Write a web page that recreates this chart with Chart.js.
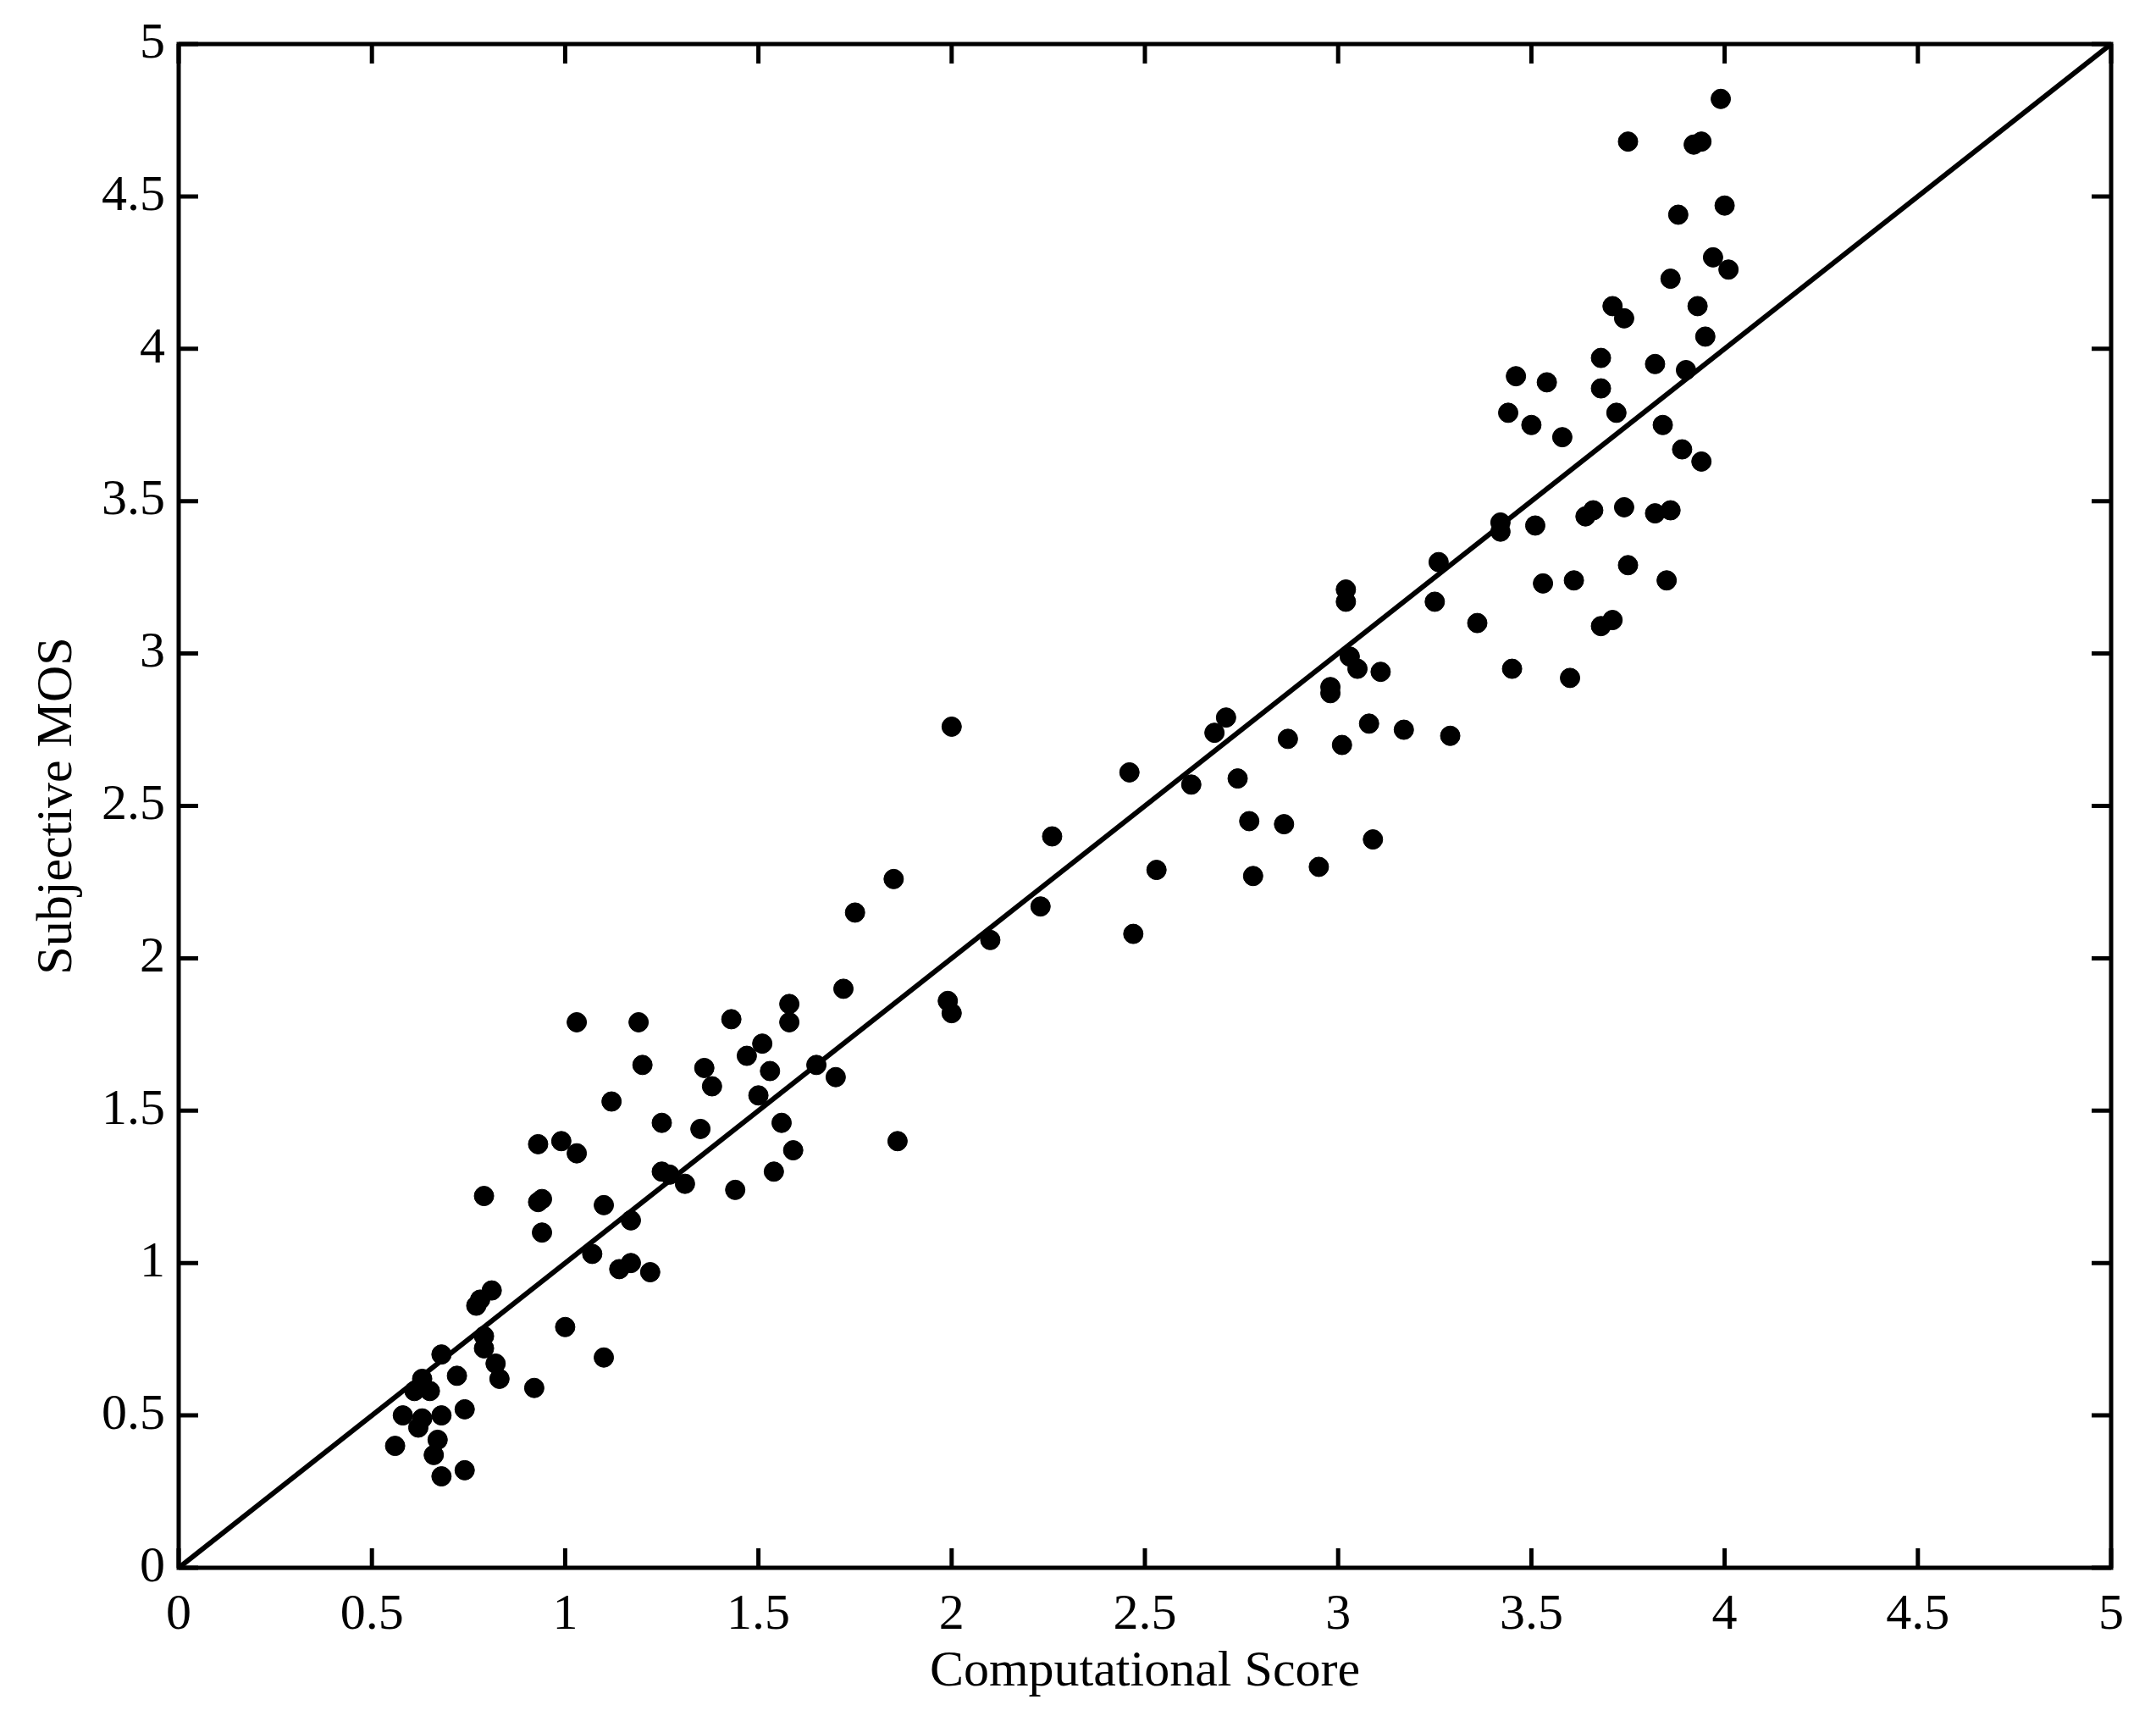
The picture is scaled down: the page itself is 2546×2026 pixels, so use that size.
<!DOCTYPE html>
<html>
<head>
<meta charset="utf-8">
<script src="https://cdn.jsdelivr.net/npm/chart.js@4.4.0/dist/chart.umd.min.js"></script>
<style>
  html, body { margin: 0; padding: 0; background: #fff; }
  canvas { display: block; }
</style>
</head>
<body>
<canvas id="mosChart" width="2546" height="2026"></canvas>
<script>
// scatter values
const computedScore = [
  0.56, 0.58, 0.61, 0.63, 0.62, 0.63, 0.65, 0.66, 0.67, 0.68, 0.68, 0.68,
  0.72, 0.74, 0.74, 0.77, 0.78, 0.79, 0.79, 0.79, 0.81, 0.82, 0.83,
  0.92, 0.93, 0.93, 0.94, 0.94, 0.99, 1.00, 1.03, 1.03, 1.07, 1.10, 1.10,
  1.12, 1.14, 1.17, 1.17, 1.19, 1.20, 1.22, 1.25, 1.25, 1.27, 1.31,
  1.35, 1.36, 1.38, 1.43, 1.44, 1.47, 1.50, 1.51, 1.53, 1.54, 1.56,
  1.58, 1.58, 1.59, 1.65, 1.70, 1.72, 1.75, 1.85, 1.86, 1.99, 2.00, 2.00,
  2.10, 2.23, 2.26, 2.46, 2.47, 2.53, 2.62, 2.68, 2.71, 2.74, 2.77, 2.78,
  2.86, 2.87, 2.95, 2.98, 2.98, 3.01, 3.02, 3.02, 3.03, 3.05, 3.08, 3.09,
  3.11, 3.17, 3.25, 3.26, 3.29, 3.36, 3.42, 3.42, 3.44, 3.45, 3.46, 3.50,
  3.51, 3.53, 3.54, 3.58, 3.60, 3.61, 3.64, 3.66, 3.68, 3.68, 3.68, 3.71,
  3.71, 3.72, 3.74, 3.74, 3.75, 3.75, 3.82, 3.82, 3.84, 3.86, 3.85, 3.86,
  3.88, 3.89, 3.90, 3.92, 3.93, 3.94, 3.95, 3.94, 3.97, 3.99, 4.00, 4.01
];
const subjectiveMos = [
  0.40, 0.50, 0.58, 0.62, 0.46, 0.49, 0.58, 0.37, 0.42, 0.50, 0.70, 0.30,
  0.63, 0.52, 0.32, 0.86, 0.88, 1.22, 0.76, 0.72, 0.91, 0.67, 0.62,
  0.59, 1.20, 1.39, 1.21, 1.10, 1.40, 0.79, 1.36, 1.79, 1.03, 0.69, 1.19,
  1.53, 0.98, 1.14, 1.00, 1.79, 1.65, 0.97, 1.30, 1.46, 1.29, 1.26,
  1.44, 1.64, 1.58, 1.80, 1.24, 1.68, 1.55, 1.72, 1.63, 1.30, 1.46,
  1.79, 1.85, 1.37, 1.65, 1.61, 1.90, 2.15, 2.26, 1.40, 1.86, 1.82, 2.76,
  2.06, 2.17, 2.40, 2.61, 2.08, 2.29, 2.57, 2.74, 2.79, 2.59, 2.45, 2.27,
  2.44, 2.72, 2.30, 2.89, 2.87, 2.70, 3.17, 3.21, 2.99, 2.95, 2.77, 2.39,
  2.94, 2.75, 3.17, 3.30, 2.73, 3.10, 3.40, 3.43, 3.79, 2.95, 3.91, 3.75,
  3.42, 3.23, 3.89, 3.71, 2.92, 3.24, 3.45, 3.47, 3.97, 3.87, 3.09, 3.11,
  4.14, 3.79, 3.48, 4.10, 3.29, 4.68, 3.95, 3.46, 3.75, 3.47, 3.24, 4.23,
  4.44, 3.67, 3.93, 4.67, 4.14, 4.68, 4.04, 3.63, 4.30, 4.82, 4.47, 4.26
];
// y = x reference line
const lineX = [0, 5];
const lineY = [0, 5];
const tickValues = [0, 0.5, 1, 1.5, 2, 2.5, 3, 3.5, 4, 4.5, 5];

const serif = "'Liberation Serif', 'DejaVu Serif', serif";

// box around the plot with inward ticks on every side (matlab look)
const boxTicks = {
  id: 'boxTicks',
  afterDraw(chart) {
    const ctx = chart.ctx;
    const a = chart.chartArea;
    const xs = chart.scales.x, ys = chart.scales.y;
    const len = 23;
    ctx.save();
    ctx.strokeStyle = '#000';
    ctx.lineWidth = 5;
    ctx.lineCap = 'square';
    ctx.strokeRect(a.left, a.top, a.right - a.left, a.bottom - a.top);
    ctx.lineCap = 'butt';
    ctx.beginPath();
    tickValues.forEach(v => {
      const px = xs.getPixelForValue(v);
      ctx.moveTo(px, a.bottom); ctx.lineTo(px, a.bottom - len);
      ctx.moveTo(px, a.top); ctx.lineTo(px, a.top + len);
      const py = ys.getPixelForValue(v);
      ctx.moveTo(a.left, py); ctx.lineTo(a.left + len, py);
      ctx.moveTo(a.right, py); ctx.lineTo(a.right - len, py);
    });
    ctx.stroke();
    ctx.restore();
  }
};

const points = computedScore.map((x, i) => ({ x: x, y: subjectiveMos[i] }));
const diag = lineX.map((x, i) => ({ x: x, y: lineY[i] }));

new Chart(document.getElementById('mosChart').getContext('2d'), {
  type: 'scatter',
  data: {
    datasets: [
      {
        label: 'fit',
        data: diag,
        showLine: true,
        borderColor: '#000',
        borderWidth: 6,
        pointRadius: 0,
        fill: false
      },
      {
        label: 'MOS',
        data: points,
        backgroundColor: '#000',
        borderColor: '#000',
        borderWidth: 1,
        pointRadius: 11.5,
        pointHoverRadius: 11.5
      }
    ]
  },
  options: {
    responsive: false,
    devicePixelRatio: 1,
    animation: false,
    events: [],
    layout: { padding: { top: 52, right: 53, left: 0, bottom: 0 } },
    plugins: {
      legend: { display: false },
      tooltip: { enabled: false }
    },
    scales: {
      x: {
        type: 'linear',
        min: 0,
        max: 5,
        afterFit(scale) { scale.height = 175; },
        grid: { display: false, drawTicks: false },
        border: { display: false },
        ticks: {
          stepSize: 0.5,
          color: '#000',
          padding: 20,
          maxRotation: 0,
          font: { family: serif, size: 60 },
          callback: v => String(v)
        },
        title: {
          display: true,
          text: 'Computational Score',
          color: '#000',
          padding: { top: 0, bottom: 16 },
          font: { family: serif, size: 60 }
        }
      },
      y: {
        type: 'linear',
        min: 0,
        max: 5,
        afterFit(scale) { scale.width = 211; },
        grid: { display: false, drawTicks: false },
        border: { display: false },
        ticks: {
          stepSize: 0.5,
          color: '#000',
          padding: 16,
          font: { family: serif, size: 60 },
          callback: v => String(v)
        },
        title: {
          display: true,
          text: 'Subjective MOS',
          color: '#000',
          padding: { top: 32, bottom: 0 },
          font: { family: serif, size: 60 }
        }
      }
    }
  },
  plugins: [boxTicks]
});
</script>
</body>
</html>
